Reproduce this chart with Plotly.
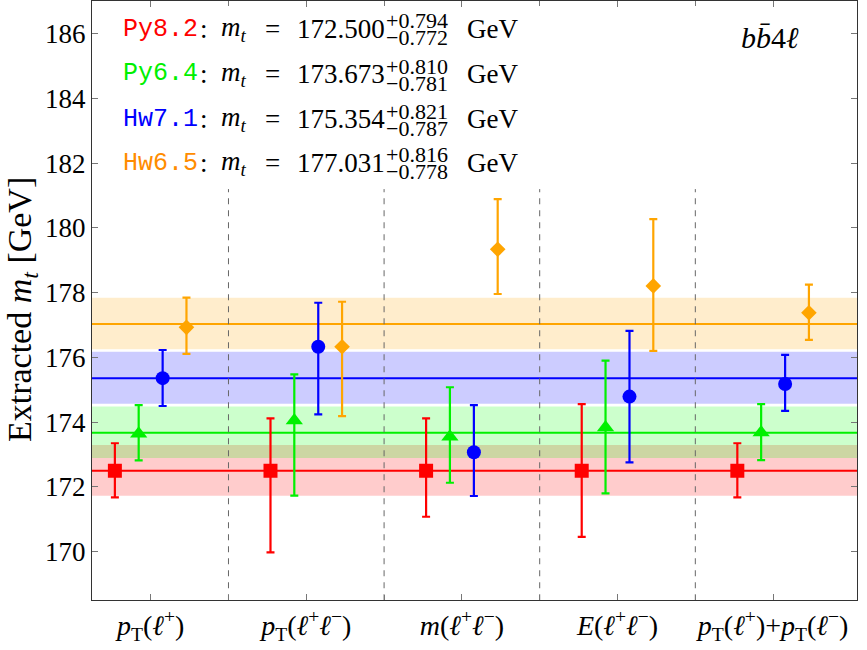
import plotly.graph_objects as go

# ---------------- data ----------------
categories = [
    "<i>p</i><sub>T</sub>(<i>ℓ</i><sup>+</sup>)",
    "<i>p</i><sub>T</sub>(<i>ℓ</i><sup>+</sup><i>ℓ</i><sup>−</sup>)",
    "<i>m</i>(<i>ℓ</i><sup>+</sup><i>ℓ</i><sup>−</sup>)",
    "<i>E</i>(<i>ℓ</i><sup>+</sup><i>ℓ</i><sup>−</sup>)",
    "<i>p</i><sub>T</sub>(<i>ℓ</i><sup>+</sup>)+<i>p</i><sub>T</sub>(<i>ℓ</i><sup>−</sup>)",
]
cat_pos = [1, 2, 3, 4, 5]
separators = [1.5, 2.5, 3.5, 4.5]

series_names = ["Py8.2", "Py6.4", "Hw7.1", "Hw6.5"]

py82 = [172.50, 172.50, 172.50, 172.50, 172.50]
py82_hi = [173.35, 174.12, 174.12, 174.56, 173.35]
py82_lo = [171.68, 169.98, 171.08, 170.46, 171.68]

py64 = [173.64, 174.05, 173.55, 173.84, 173.68]
py64_hi = [174.53, 175.48, 175.08, 175.90, 174.56]
py64_lo = [172.82, 171.73, 172.13, 171.80, 172.83]

hw71 = [175.36, 176.33, 173.07, 174.79, 175.18]
hw71_hi = [176.23, 177.69, 174.53, 176.82, 176.08]
hw71_lo = [174.50, 174.24, 171.72, 172.76, 174.35]

hw65 = [176.93, 176.33, 179.34, 178.21, 177.38]
hw65_hi = [177.85, 177.72, 180.89, 180.27, 178.25]
hw65_lo = [176.11, 174.19, 177.96, 176.20, 176.54]

comb_central = [172.500, 173.673, 175.354, 177.031]
comb_plus = [0.794, 0.810, 0.821, 0.816]
comb_minus = [0.772, 0.781, 0.787, 0.778]
comb_central_txt = ["172.500", "173.673", "175.354", "177.031"]
comb_plus_txt = ["+0.794", "+0.810", "+0.821", "+0.816"]
comb_minus_txt = ["−0.772", "−0.781", "−0.787", "−0.778"]

y_ticks = [170, 172, 174, 176, 178, 180, 182, 184, 186]

# ---------------- styles ----------------
vals = [py82, py64, hw71, hw65]
his = [py82_hi, py64_hi, hw71_hi, hw65_hi]
los = [py82_lo, py64_lo, hw71_lo, hw65_lo]
colors = ["#ff0000", "#00f000", "#0000ff", "#ffa500"]
text_colors = ["#ff0000", "#00f000", "#0000ff", "#ff8c00"]
band_colors = ["rgba(255,0,0,0.2)", "rgba(0,255,0,0.2)",
               "rgba(0,0,255,0.2)", "rgba(255,165,0,0.2)"]
symbols = ["square", "triangle-up", "circle", "diamond"]
msizes = [14, 15, 14, 12]
offsets = [-0.23, -0.077, 0.077, 0.23]

SERIF = "Liberation Serif, DejaVu Serif, serif"
MONO = "Liberation Mono, DejaVu Sans Mono, monospace"

# plot-area geometry (pixels) for text placement
L, R, T, B = 92, 857.5, 1, 600
W, H = R - L, B - T


def pxx(x):
    return (x - L) / W


def pxy(y):
    return (B - y) / H


fig = go.Figure()

# bands and central lines
for i in range(4):
    fig.add_shape(type="rect", xref="paper", yref="y", x0=0, x1=1,
                  y0=comb_central[i] - comb_minus[i], y1=comb_central[i] + comb_plus[i],
                  fillcolor=band_colors[i], line=dict(width=0), layer="below")
for i in range(4):
    fig.add_shape(type="line", xref="paper", yref="y", x0=0, x1=1,
                  y0=comb_central[i], y1=comb_central[i],
                  line=dict(color=colors[i], width=2), layer="below")
for s in separators:
    fig.add_shape(type="line", xref="x", yref="y", x0=s, x1=s, y0=168.5, y1=181.2,
                  line=dict(color="#666666", width=1, dash="6px,6px"), layer="below")

# points with error bars
for i in range(4):
    xs = [c + offsets[i] for c in cat_pos]
    fig.add_trace(go.Scatter(
        x=xs, y=vals[i], mode="markers", name=series_names[i],
        marker=dict(symbol=symbols[i], size=msizes[i], color=colors[i],
                    line=dict(width=0)),
        error_y=dict(type="data", symmetric=False,
                     array=[h - v for h, v in zip(his[i], vals[i])],
                     arrayminus=[v - l for l, v in zip(los[i], vals[i])],
                     color=colors[i], thickness=2.2, width=4),
        showlegend=False))

# legend-like text block
ann = []
base_centers = [29, 74, 119, 163]
for i in range(4):
    yc = base_centers[i]
    ann.append(dict(x=pxx(121), y=pxy(yc), xref="paper", yref="paper",
                    xanchor="left", yanchor="middle", showarrow=False,
                    text=series_names[i],
                    font=dict(family=MONO, size=25, color=text_colors[i])))
    ann.append(dict(x=pxx(198), y=pxy(yc), xref="paper", yref="paper",
                    xanchor="left", yanchor="middle", showarrow=False,
                    text=":", font=dict(family=SERIF, size=27, color="black")))
    ann.append(dict(x=pxx(219), y=pxy(yc), xref="paper", yref="paper",
                    xanchor="left", yanchor="middle", showarrow=False,
                    text="<i>m</i><sub><i>t</i></sub>",
                    font=dict(family=SERIF, size=27, color="black")))
    ann.append(dict(x=pxx(273), y=pxy(yc), xref="paper", yref="paper",
                    xanchor="center", yanchor="middle", showarrow=False,
                    text="=", font=dict(family=SERIF, size=27, color="black")))
    ann.append(dict(x=pxx(295), y=pxy(yc), xref="paper", yref="paper",
                    xanchor="left", yanchor="middle", showarrow=False,
                    text=comb_central_txt[i],
                    font=dict(family=SERIF, size=27, color="black")))
    ann.append(dict(x=pxx(384), y=pxy(yc - 8), xref="paper", yref="paper",
                    xanchor="left", yanchor="middle", showarrow=False,
                    text=comb_plus_txt[i],
                    font=dict(family=SERIF, size=22, color="black")))
    ann.append(dict(x=pxx(384), y=pxy(yc + 9), xref="paper", yref="paper",
                    xanchor="left", yanchor="middle", showarrow=False,
                    text=comb_minus_txt[i],
                    font=dict(family=SERIF, size=22, color="black")))
    ann.append(dict(x=pxx(465), y=pxy(yc), xref="paper", yref="paper",
                    xanchor="left", yanchor="middle", showarrow=False,
                    text="GeV", font=dict(family=SERIF, size=27, color="black")))

# process label
ann.append(dict(x=pxx(770), y=pxy(38), xref="paper", yref="paper",
                xanchor="center", yanchor="middle", showarrow=False,
                text="<i>b</i><i>b̄</i>4<i>ℓ</i>",
                font=dict(family=SERIF, size=30, color="black")))
# y-axis title
ann.append(dict(x=pxx(22), y=pxy(310), xref="paper", yref="paper",
                xanchor="center", yanchor="middle", showarrow=False, textangle=-90,
                text="Extracted <i>m</i><sub><i>t</i></sub> [GeV]",
                font=dict(family=SERIF, size=34, color="black")))

fig.update_layout(
    width=867, height=650,
    margin=dict(l=L, r=867 - R, t=T, b=650 - B),
    paper_bgcolor="white", plot_bgcolor="white",
    annotations=ann,
    xaxis=dict(range=[0.623, 5.539], tickmode="array", tickvals=cat_pos,
               ticktext=categories, ticks="inside", ticklen=6, tickcolor="#777",
               showline=True, linecolor="#333", linewidth=1.3, mirror="ticks",
               showgrid=False, zeroline=False,
               tickfont=dict(family=SERIF, size=28, color="black"),
               minor=dict(tickvals=separators, ticks="inside", ticklen=5,
                          tickcolor="#777", showgrid=False)),
    yaxis=dict(range=[168.508, 187.01], tickmode="array", tickvals=y_ticks,
               ticks="inside", ticklen=6, tickcolor="#777",
               showline=True, linecolor="#333", linewidth=1.3, mirror="ticks",
               showgrid=False, zeroline=False,
               tickfont=dict(family=SERIF, size=27, color="black")),
)

fig.write_html("out.html")
